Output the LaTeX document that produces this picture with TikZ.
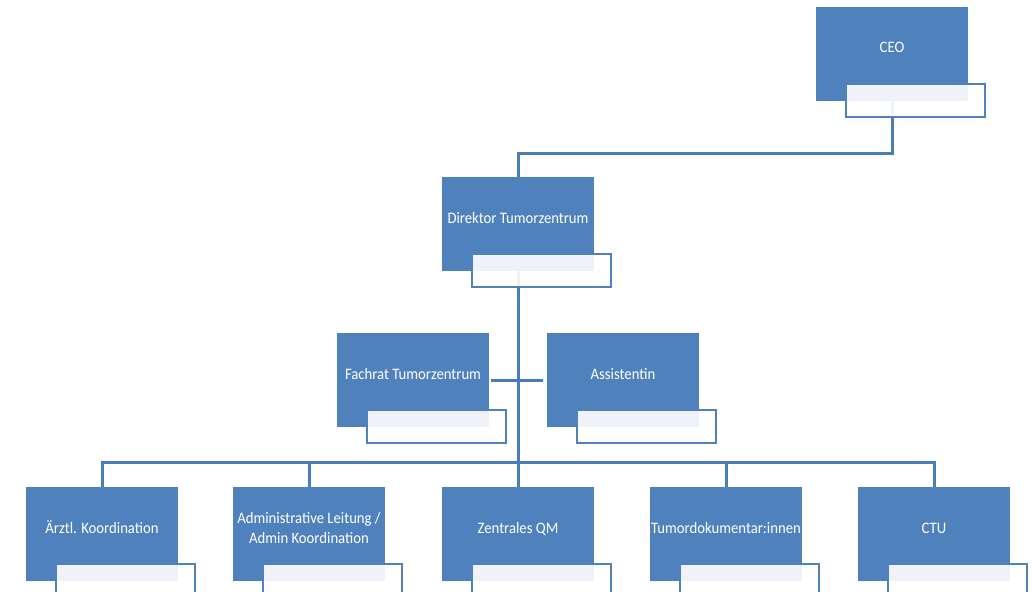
\documentclass[tikz,border=0pt]{standalone}
\usepackage{graphicx}
\usepackage{fontspec}
\setmainfont{Carlito}
\usetikzlibrary{backgrounds}
\definecolor{boxblue}{HTML}{4F81BD}
\definecolor{lineblue}{HTML}{4A7EBB}
\newcommand\sq[1]{\scalebox{0.92}[1]{\begin{tabular}{@{}c@{}}#1\end{tabular}}}
\tikzset{
  mainbox/.style={rectangle, fill=boxblue, inner sep=0pt, outer sep=0pt,
    minimum width=152pt, minimum height=94pt, anchor=north west},
  subbox/.style={rectangle, draw=boxblue, line width=2pt, fill=white, fill opacity=0.91,
    inner sep=0pt, outer sep=0pt, minimum width=139pt, minimum height=33pt, anchor=north west},
  boxtext/.style={text=white, inner sep=0pt, font=\fontsize{16}{20}\selectfont},
  conn/.style={draw=lineblue, line width=3pt, line join=miter},
}
\newcommand\orgunit[4]{%
  \node[mainbox] (#1) at (#2,#3) {};
  \node[subbox] (#1s) at ([shift={(30,77)}]#1.north west) {};
  \node[boxtext] (#1t) at ([yshift=-42pt]#1.north) {\sq{#4}};
}
\begin{document}
\begin{tikzpicture}[x=1pt,y=-1pt]
\useasboundingbox (0,0) rectangle (1032,591);
\orgunit{ceo}{816}{7}{CEO}
\orgunit{dir}{442}{177}{Direktor Tumorzentrum}
\orgunit{fach}{337}{333}{Fachrat Tumorzentrum}
\orgunit{assi}{547}{333}{Assistentin}
\orgunit{arzt}{26}{487}{Ärztl. Koordination}
\orgunit{admin}{233}{487}{Administrative Leitung /\\Admin Koordination}
\orgunit{qm}{442}{487}{Zentrales QM}
\orgunit{tumor}{650}{487}{Tumordokumentar:innen}
\orgunit{ctu}{858}{487}{CTU}
\begin{scope}[on background layer]
  \coordinate (bus) at (dir.south |- 0,462);
  \draw[conn] (ceo.south) -- ([yshift=-52pt]ceo.south) -| (dir.north);
  \draw[conn] (dir.south) -- (bus);
  \draw[conn] ([xshift=2pt]fach.east) -- ([xshift=-4pt]assi.west);
  \foreach \n in {arzt,admin,qm,tumor,ctu}
    \draw[conn] (\n.north) |- (bus);
\end{scope}
\end{tikzpicture}
\end{document}
